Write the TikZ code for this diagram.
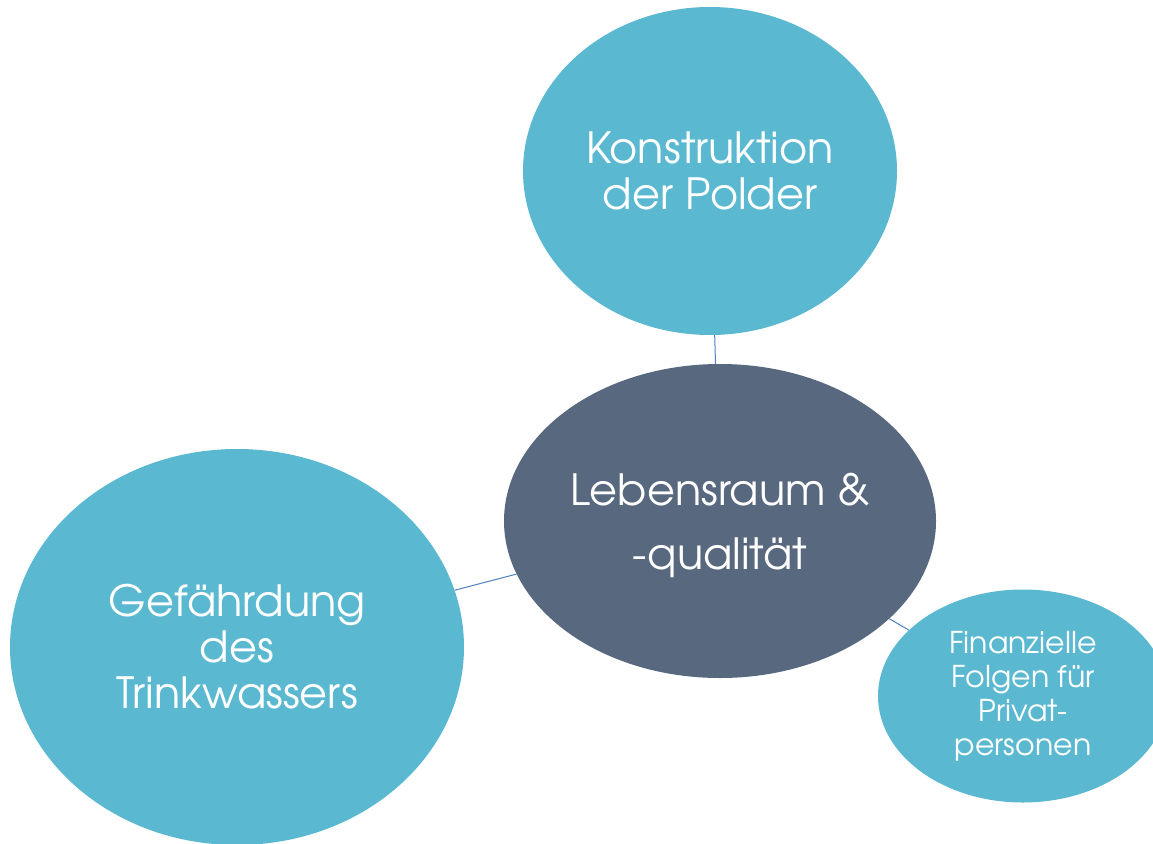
\documentclass[tikz,border=0pt]{standalone}
\usepackage{fontspec}
\setmainfont{TeX Gyre Adventor}
\usetikzlibrary{shapes.geometric}
\definecolor{lightblob}{HTML}{5AB9D1}
\definecolor{darkblob}{HTML}{57687F}
\definecolor{linkcol}{HTML}{4F81BD}
\tikzset{
  blob/.style={ellipse, inner sep=0pt, draw=none, text=white, align=center},
  bigtext/.style={font=\fontsize{43}{46}\selectfont},
  smalltext/.style={font=\fontsize{30}{34}\selectfont},
  link/.style={draw=linkcol, line width=1pt}
}
\begin{document}
\begin{tikzpicture}[x=1pt,y=-1pt]
\useasboundingbox (0,0) rectangle (1153,843);
\fill[white] (0,0) rectangle (1153,843);
\begin{scope}
\clip (0,0) rectangle (1153,843);
\node[blob, bigtext, fill=lightblob, minimum width=374pt, minimum height=328pt] (top) at (710,171) {Konstruktion\\der Polder};
\node[blob, bigtext, fill=lightblob, minimum width=454pt, minimum height=396pt] (left) at (237,647) {Gefährdung\\des\\Trinkwassers};
\node[blob, smalltext, fill=lightblob, minimum width=290pt, minimum height=213pt] (right) at (1023,696) {Finanzielle\\Folgen für\\Privat-\\personen};
\node[blob, bigtext, fill=darkblob, minimum width=432pt, minimum height=314pt] (center) at (720,521) {\rule{0pt}{41pt}Lebensraum \&\\[18pt]-qualität};
\draw[link] (top) -- (center);
\draw[link] (left) -- (center);
\draw[link] (right) -- (center);
\end{scope}
\end{tikzpicture}
\end{document}
